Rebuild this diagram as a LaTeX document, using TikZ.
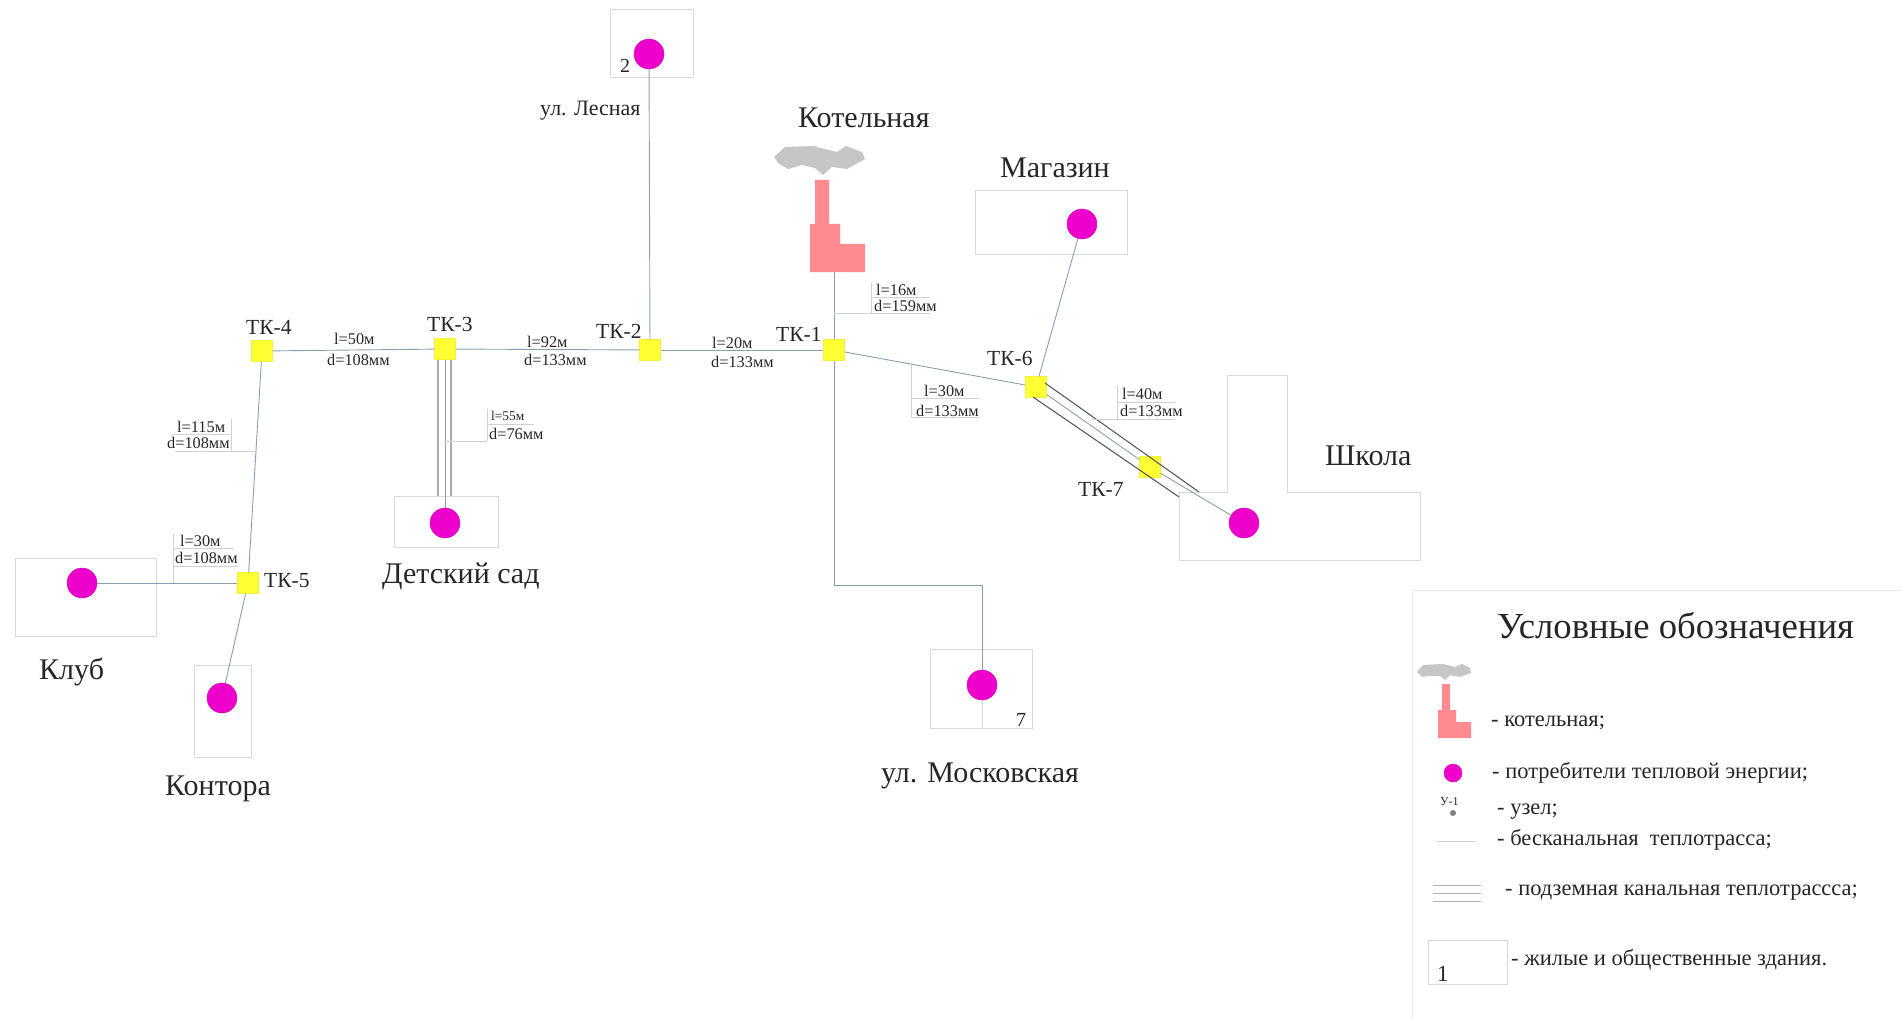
\documentclass[tikz,border=0pt]{standalone}
\usepackage{fontspec}
\setmainfont{Liberation Serif}
\definecolor{pipecol}{HTML}{8AA0AC}
\definecolor{zdcol}{HTML}{D6DADB}
\definecolor{dimcol}{HTML}{CFD2D2}
\definecolor{kancol}{HTML}{5C5C5C}
\definecolor{potrcol}{HTML}{EE00CC}
\definecolor{tkcol}{HTML}{FFFF33}
\definecolor{kotcol}{HTML}{FF8A90}
\tikzset{
  pipe/.style={draw=pipecol,line width=0.9pt},
  kanal/.style={draw=kancol,line width=1.1pt},
  kanalv/.style={draw=gray!65,line width=1.2pt},
  zdanie/.style={draw=zdcol,line width=0.9pt},
  dimline/.style={draw=dimcol,line width=0.7pt},
  tk/.style={draw=tkcol!90!gray,fill=tkcol,minimum size=21pt,inner sep=0pt},
  potreb/.style={circle,draw=potrcol!90!black,fill=potrcol,minimum size=30pt,inner sep=0pt},
  txt/.style={anchor=base west,inner sep=0pt,text=black!85},
  big/.style={txt,font=\fontsize{30}{30}\selectfont},
  mid/.style={txt,font=\fontsize{21.5}{21.5}\selectfont},
  leg/.style={txt,font=\fontsize{22.5}{22.5}\selectfont},
  dimtxt/.style={txt,font=\fontsize{16.3}{16.3}\selectfont}
}
\begin{document}
\begin{tikzpicture}[x=1pt,y=-1pt]
\useasboundingbox (0,0) rectangle (1901,1019);
% zdaniya
\draw[zdanie] (610,9) rectangle (693,77);
\draw[zdanie] (975,190) rectangle (1127,254);
\draw[zdanie] (394,496) rectangle (498,547);
\draw[zdanie] (15,558) rectangle (156,636);
\draw[zdanie] (194,665) rectangle (251,757);
\draw[zdanie] (930,649) rectangle (1032,728);
\draw[zdanie] (982,685) -- (982,728);
\draw[zdanie] (1179,492) -- (1227,492) -- (1227,375) -- (1287,375) -- (1287,492) -- (1420,492) -- (1420,560) -- (1179,560) -- cycle;
% kotelnaya
\fill[gray!45] (774,157) -- (785,147) -- (813,146) -- (837,152) -- (846,146) -- (862,152) -- (865,159) -- (847,169) -- (832,167) -- (823,175) -- (815,168) -- (802,165) -- (788,169) -- (778,163) -- cycle;
\fill[kotcol] (815,180) -- (829,180) -- (829,224) -- (840,224) -- (840,244) -- (865,244) -- (865,272) -- (810,272) -- (810,224) -- (815,224) -- cycle;
\coordinate (kotel) at (834,272);
\coordinate (ugol) at (834,585);
\coordinate (ugol2) at (982,585);
% uzly
\node[tk] (tk1) at (834,350) {};
\node[tk] (tk2) at (650,350) {};
\node[tk] (tk3) at (445,349) {};
\node[tk] (tk4) at (262,351) {};
\node[tk] (tk5) at (248,583) {};
\node[tk] (tk6) at (1036,387) {};
\node[tk] (tk7) at (1150,467) {};
% potrebiteli
\node[potreb] (lesn) at (649,54) {};
\node[potreb] (magaz) at (1082,224) {};
\node[potreb] (shkola) at (1244,523) {};
\node[potreb] (sad) at (445,523) {};
\node[potreb] (klub) at (82,583) {};
\node[potreb] (kont) at (222,698) {};
\node[potreb] (mosk) at (982,685) {};
% kanal
\coordinate (k1a) at (438,360);
\coordinate (k1b) at (438,496);
\coordinate (k2a) at (451,360);
\coordinate (k2b) at (451,496);
\coordinate (k3a) at (1045,383);
\coordinate (k3b) at (1199,492);
\coordinate (k4a) at (1033,397);
\coordinate (k4b) at (1179,497);
\draw[kanalv] (k1a) -- (k1b);
\draw[kanalv] (k2a) -- (k2b);
\draw[kanal] (k3a) -- (k3b);
\draw[kanal] (k4a) -- (k4b);
% trassy
\draw[pipe] (kotel) -- (tk1);
\draw[pipe] (tk1) -- (tk2);
\draw[pipe] (tk2) -- (tk3);
\draw[pipe] (tk3) -- (tk4);
\draw[pipe] (tk4) -- (tk5);
\draw[pipe] (tk5) -- (klub);
\draw[pipe] (tk5) -- (kont);
\draw[pipe] (tk2) -- (lesn);
\draw[pipe] (tk3) -- (sad);
\draw[pipe] (tk1) -- (tk6);
\draw[pipe] (tk6) -- (magaz);
\draw[pipe] (tk6) -- (tk7);
\draw[pipe] (tk7) -- (shkola);
\draw[pipe] (tk1) -- (ugol) -- (ugol2) -- (mosk);
% vynoski
\draw[dimline] (871,283) -- (871,313) (871,297) -- (930,297) (834,313) -- (930,313);
\draw[dimline] (911,363) -- (911,417) (911,398) -- (979,398) (911,417) -- (979,417);
\draw[dimline] (1117,386) -- (1117,419) (1117,402) -- (1175,402) (1092,419) -- (1175,419);
\draw[dimline] (487,409) -- (487,441) (487,424) -- (534,424) (445,441) -- (487,441);
\draw[dimline] (231,419) -- (231,451) (172,434) -- (231,434) (175,451) -- (256,451);
\draw[dimline] (173,534) -- (173,583) (173,548) -- (234,548) (173,566) -- (238,566);
\node[dimtxt] (l1) at (876,295) {l=16м};
\node[dimtxt] (d1) at (874,311) {d=159мм};
\node[dimtxt] (l2) at (924,396) {l=30м};
\node[dimtxt] (d2) at (916,416) {d=133мм};
\node[dimtxt] (l3) at (1122,399) {l=40м};
\node[dimtxt] (d3) at (1120,416) {d=133мм};
\node[dimtxt] (l4) at (334,344) {l=50м};
\node[dimtxt] (d4) at (327,365) {d=108мм};
\node[dimtxt] (l5) at (527,347) {l=92м};
\node[dimtxt] (d5) at (524,365) {d=133мм};
\node[dimtxt] (l6) at (712,348) {l=20м};
\node[dimtxt] (d6) at (711,367) {d=133мм};
\node[dimtxt,font=\fontsize{13.4}{13.4}\selectfont] (l7) at (491,420) {l=55м};
\node[dimtxt] (d7) at (489,439) {d=76мм};
\node[dimtxt] (l8) at (177,432) {l=115м};
\node[dimtxt] (d8) at (167,448) {d=108мм};
\node[dimtxt] (l9) at (180,546) {l=30м};
\node[dimtxt] (d9) at (175,563) {d=108мм};
% podpisi
\node[mid] (n1) at (776,341) {ТК-1};
\node[mid] (n2) at (596,338) {ТК-2};
\node[mid] (n3) at (427,331) {ТК-3};
\node[mid] (n4) at (246,334) {ТК-4};
\node[mid] (n5) at (264,587) {ТК-5};
\node[mid] (n6) at (987,365) {ТК-6};
\node[mid] (n7) at (1078,496) {ТК-7};
\node[big] (t1) at (798,128) {Котельная};
\node[big] (t2) at (1000,178) {Магазин};
\node[big] (t3) at (1325,465) {Школа};
\node[big] (t4) at (382,583) {Детский сад};
\node[big] (t5) at (39,679) {Клуб};
\node[big] (t6) at (165,795) {Контора};
\node[big] (t7) at (881,782) {ул. Московская};
\node[mid,font=\fontsize{22}{22}\selectfont] (t8) at (540,116) {ул. Лесная};
\node[mid,font=\fontsize{20}{20}\selectfont] (t9) at (620,73) {2};
\node[mid,font=\fontsize{20}{20}\selectfont] (t10) at (1016,726) {7};
% legenda
\draw[zdanie,draw=gray!18] (1412,1019) -- (1412,590) -- (1901,590);
\node[big,font=\fontsize{36.7}{36.7}\selectfont] (zag) at (1497,638) {Условные обозначения};
\fill[gray!45] (1417,672) -- (1423,665) -- (1443,664) -- (1455,667) -- (1462,664) -- (1470,668) -- (1471,673) -- (1460,677) -- (1450,675) -- (1445,680) -- (1440,676) -- (1430,676) -- (1422,677) -- cycle;
\fill[kotcol] (1442,684) -- (1450,684) -- (1450,710) -- (1456,710) -- (1456,722) -- (1471,722) -- (1471,738) -- (1438,738) -- (1438,710) -- (1442,710) -- cycle;
\node[potreb,minimum size=18pt] (legp) at (1453,773) {};
\node[txt,font=\fontsize{12}{12}\selectfont] (legu) at (1440,805) {У-1};
\node[circle,fill=gray,minimum size=6pt,inner sep=0pt] (legd) at (1453,813) {};
\coordinate (la) at (1437,841);
\coordinate (lb) at (1476,841);
\draw[dimline] (la) -- (lb);
\coordinate (lc) at (1433,885);
\coordinate (ld) at (1481,885);
\coordinate (le) at (1433,893);
\coordinate (lf) at (1481,893);
\coordinate (lg) at (1433,901);
\coordinate (lh) at (1481,901);
\draw[draw=gray!60,line width=0.8pt] (lc) -- (ld);
\draw[draw=gray!60,line width=0.8pt] (le) -- (lf);
\draw[draw=gray!60,line width=0.8pt] (lg) -- (lh);
\draw[zdanie] (1428,940) rectangle (1507,984);
\node[big,font=\fontsize{23}{23}\selectfont] (leg1) at (1437,981) {1};
\node[leg] (s1) at (1491,726) {- котельная;};
\node[leg] (s2) at (1492,778) {- потребители тепловой энергии;};
\node[leg] (s3) at (1497,814) {- узел;};
\node[leg] (s4) at (1497,845) {- бесканальная\ \ теплотрасса;};
\node[leg] (s5) at (1505,895) {- подземная канальная теплотрассса;};
\node[leg] (s6) at (1511,965) {- жилые и общественные здания.};
\end{tikzpicture}
\end{document}
